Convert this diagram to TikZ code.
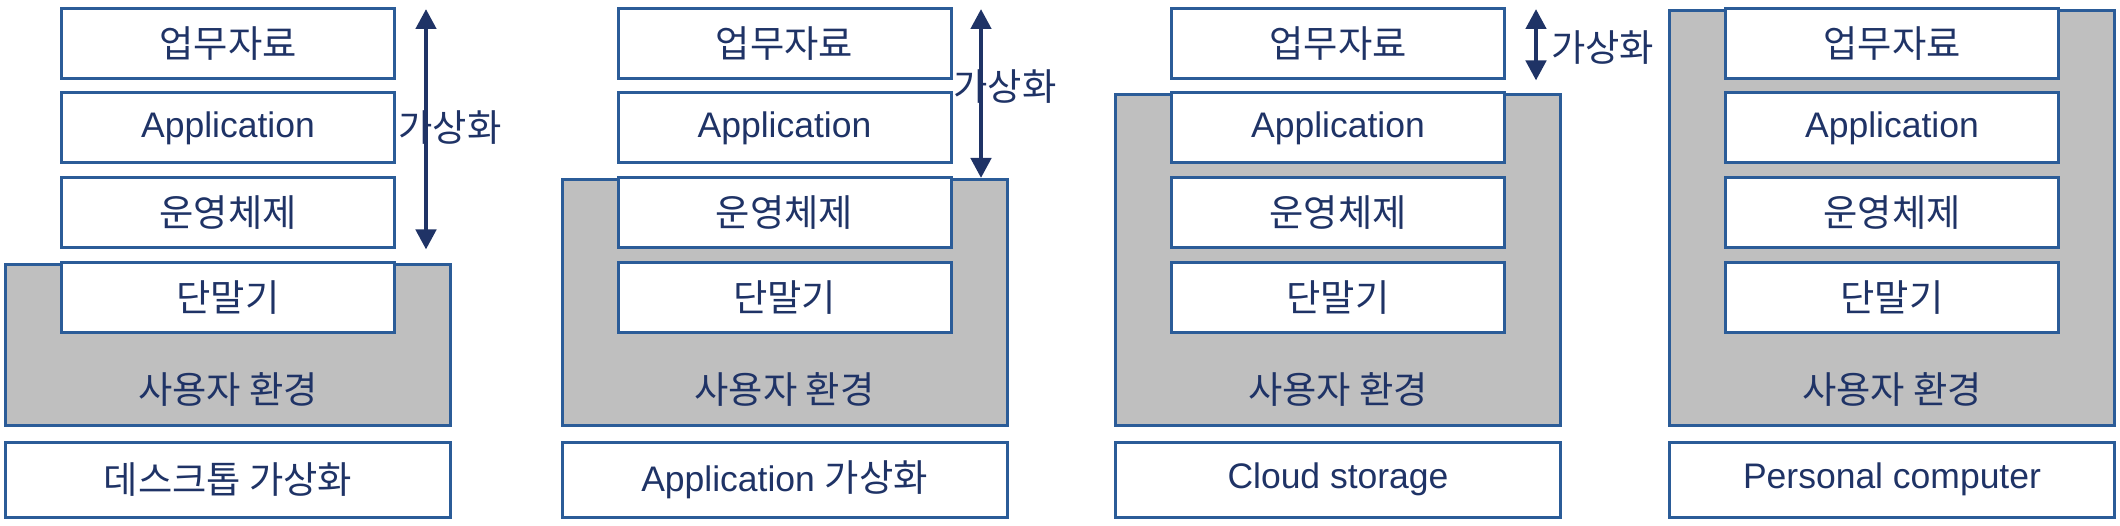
\documentclass[tikz,border=0pt]{standalone}
\usepackage{fontspec}
\setmainfont{Liberation Sans}
\newfontfamily\kr[Scale=1.05]{Noto Sans CJK KR}
\usetikzlibrary{arrows.meta}
\definecolor{edgeblue}{HTML}{2B5C98}
\definecolor{ink}{HTML}{1F3366}
\definecolor{envgray}{HTML}{BFBFBF}

\begin{document}
\begin{tikzpicture}[x=1pt,y=-1pt,
        layer/.style={draw=edgeblue, line width=3pt, fill=white, minimum width=333pt, minimum height=70pt, inner sep=0pt, text=ink, font=\fontsize{35.5}{40}\selectfont},
        env/.style={draw=edgeblue, line width=3pt, fill=envgray, minimum width=445pt, inner sep=0pt, anchor=north},
        caption/.style={layer, minimum width=445pt, minimum height=75pt},
        lbl/.style={text=ink, inner sep=0pt, font=\fontsize{35.5}{40}\selectfont\kr},
        virt/.style={{Triangle[width=20pt,length=20pt]}-{Triangle[width=20pt,length=20pt]}, draw=ink, line width=4.5pt}]
            \useasboundingbox (0,0) rectangle (2120,526);

            % desktop virtualisation
            \node[env, minimum height=161pt] (env1) at (228,263) {};
            \node[layer] (data1) at (228,44) {\kr 업무자료};
            \node[layer] (app1) at (228,128) {Application};
            \node[layer] (os1) at (228,213) {\kr 운영체제};
            \node[layer] (term1) at (228,297.5) {\kr 단말기};
            \node[lbl] (user1) at (228,389) {사용자 환경};
            \node[caption] (cap1) at (228,479.5) {\kr 데스크톱 가상화};
            \node[lbl] (virt1) at (450,128) {가상화};
            \coordinate (a1) at (426,9);
            \draw[virt] (a1) -- (a1 |- os1.south);

            % application virtualisation
            \node[env, minimum height=246pt] (env2) at (784.5,178) {};
            \node[layer] (data2) at (784.5,44) {\kr 업무자료};
            \node[layer] (app2) at (784.5,128) {Application};
            \node[layer] (os2) at (784.5,213) {\kr 운영체제};
            \node[layer] (term2) at (784.5,297.5) {\kr 단말기};
            \node[lbl] (user2) at (784.5,389) {사용자 환경};
            \node[caption] (cap2) at (784.5,479.5) {Application {\kr 가상화}};
            \node[lbl] (virt2) at (1005,87) {가상화};
            \coordinate (a2) at (981,9);
            \draw[virt] (a2) -- (a2 |- env2.north);

            % cloud storage
            \node[env, minimum height=331pt] (env3) at (1338,93) {};
            \node[layer] (data3) at (1338,44) {\kr 업무자료};
            \node[layer] (app3) at (1338,128) {Application};
            \node[layer] (os3) at (1338,213) {\kr 운영체제};
            \node[layer] (term3) at (1338,297.5) {\kr 단말기};
            \node[lbl] (user3) at (1338,389) {사용자 환경};
            \node[caption] (cap3) at (1338,479.5) {Cloud storage};
            \node[lbl, anchor=west] (virt3) at (1551,48) {가상화};
            \coordinate (a3) at (1536,9);
            \draw[virt] (a3) -- (a3 |- data3.south);

            % personal computer
            \node[env, minimum height=415pt] (env4) at (1892,9) {};
            \node[layer] (data4) at (1892,44) {\kr 업무자료};
            \node[layer] (app4) at (1892,128) {Application};
            \node[layer] (os4) at (1892,213) {\kr 운영체제};
            \node[layer] (term4) at (1892,297.5) {\kr 단말기};
            \node[lbl] (user4) at (1892,389) {사용자 환경};
            \node[caption] (cap4) at (1892,479.5) {Personal computer};
        \end{tikzpicture}
\end{document}
